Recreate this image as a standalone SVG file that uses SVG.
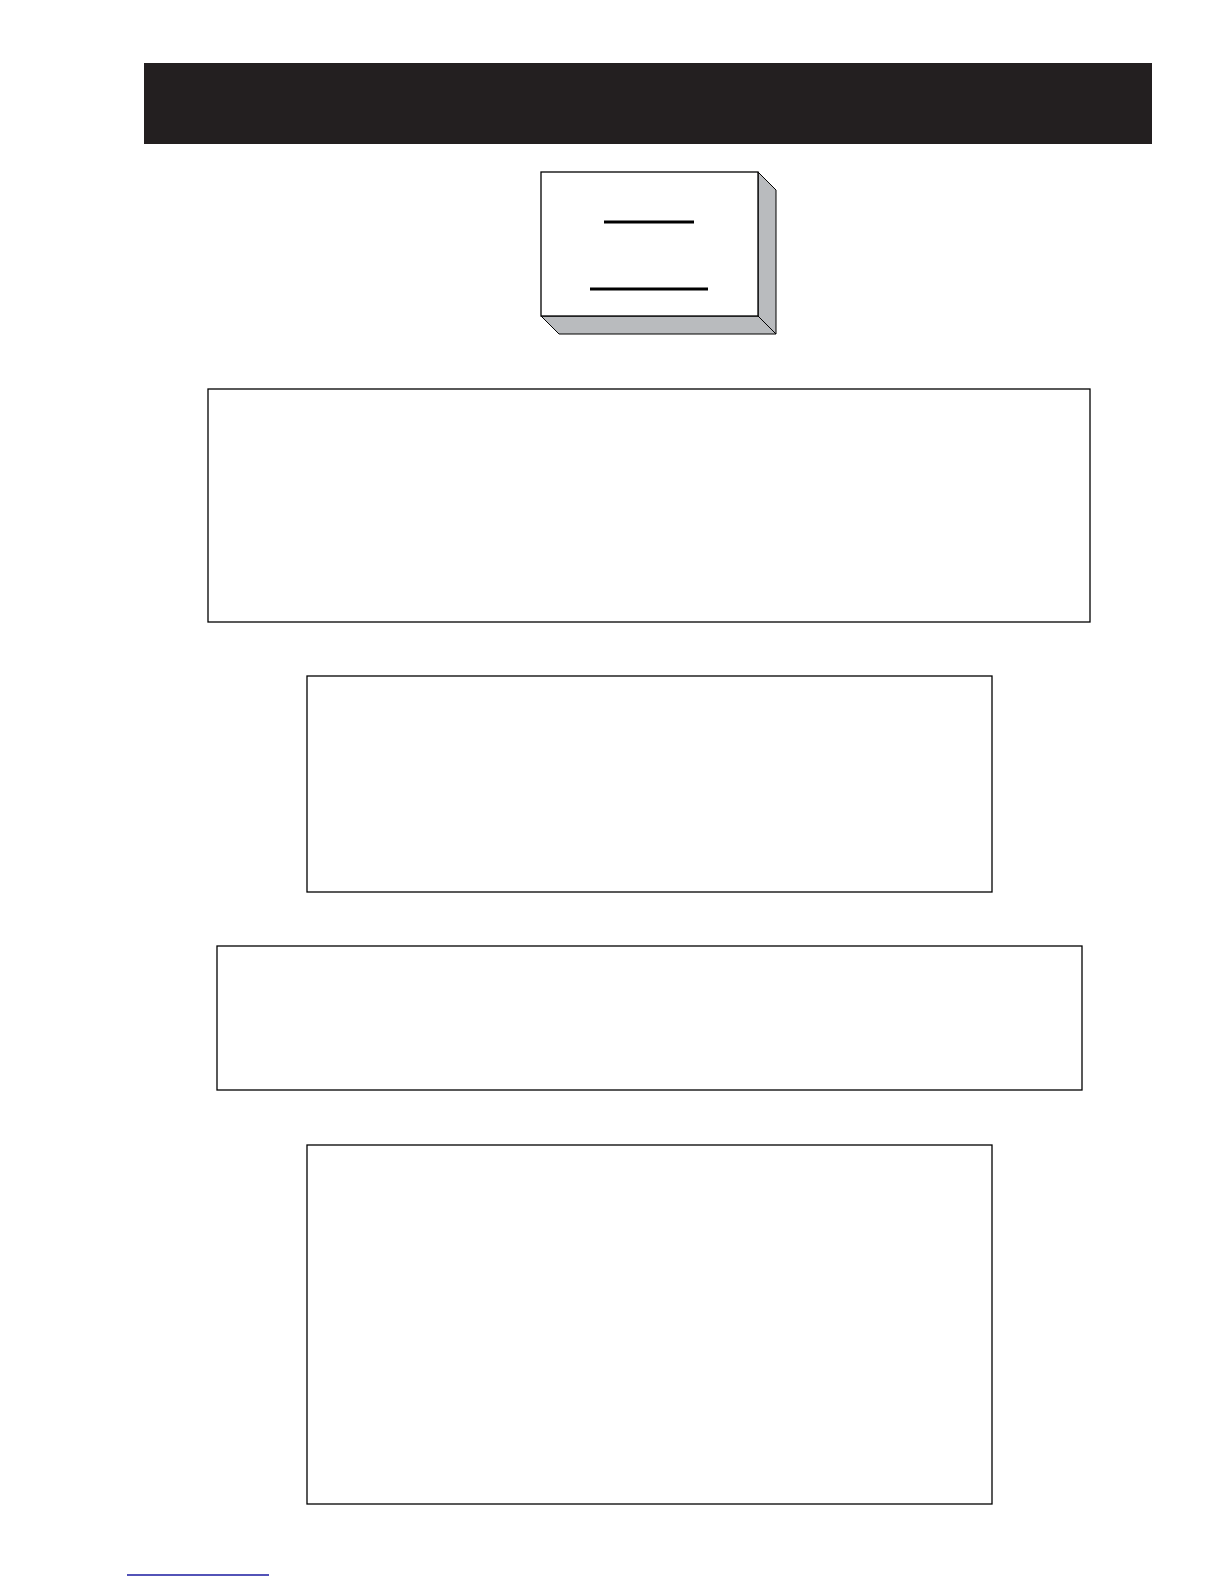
<svg xmlns="http://www.w3.org/2000/svg" width="1224" height="1584" viewBox="0 0 1224 1584">
<style>
.box{fill:#fff;stroke:#000;stroke-width:1.3}
.bar{stroke:#000;stroke-width:3}
</style>
<rect width="1224" height="1584" fill="#fff"/>
<g id="header"><rect x="144" y="63" width="1008" height="81" fill="#231f20"/></g>
<g id="title-box">
<polygon points="758,172 776,190 776,334 758,316" fill="#b9bbbe" stroke="#000" stroke-width="1"/>
<polygon points="541,316 758,316 776,334 559,334" fill="#b9bbbe" stroke="#000" stroke-width="1"/>
<rect class="box" x="541" y="172" width="217" height="144"/>
<line class="bar" x1="604" y1="222" x2="694" y2="222"/>
<line class="bar" x1="590" y1="289" x2="708" y2="289"/>
</g>
<g id="box1"><rect class="box" x="208" y="389" width="882" height="233"/></g>
<g id="box2"><rect class="box" x="307" y="676" width="685" height="216"/></g>
<g id="box3"><rect class="box" x="217" y="946" width="865" height="144"/></g>
<g id="box4"><rect class="box" x="307" y="1145" width="685" height="359"/></g>
<g id="connectors"></g>
<line x1="127" y1="1575" x2="269" y2="1575" stroke="#1a1aa0" stroke-width="1.3"/>
</svg>
